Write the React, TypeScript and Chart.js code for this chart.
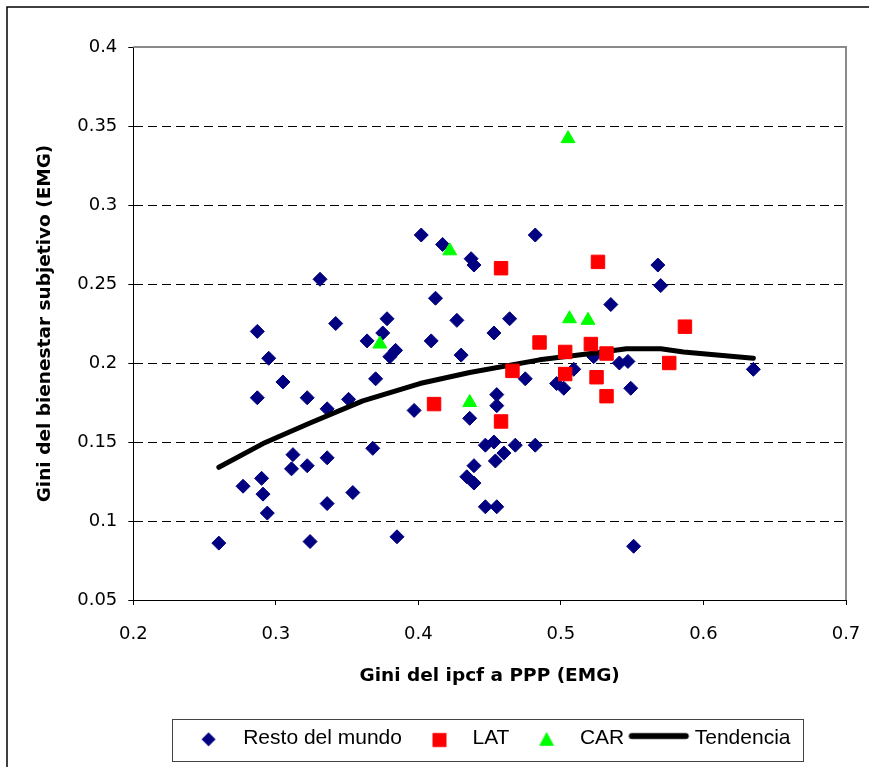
import React, { useEffect, useRef } from 'react';
import { Chart, registerables } from 'chart.js';

Chart.register(...registerables);

// ---- Data ----
const restoX = [0.260, 0.277, 0.287, 0.287, 0.290, 0.291, 0.294, 0.295, 0.305, 0.311, 0.312, 0.322, 0.322, 0.324, 0.331, 0.336, 0.336, 0.336, 0.342, 0.351, 0.354, 0.364, 0.368, 0.370, 0.375, 0.378, 0.380, 0.384, 0.385, 0.397, 0.402, 0.409, 0.412, 0.417, 0.427, 0.430, 0.434, 0.436, 0.437, 0.439, 0.439, 0.439, 0.447, 0.447, 0.453, 0.453, 0.454, 0.455, 0.455, 0.455, 0.460, 0.464, 0.468, 0.475, 0.482, 0.482, 0.497, 0.502, 0.509, 0.523, 0.535, 0.541, 0.547, 0.549, 0.551, 0.568, 0.570, 0.635];
const restoY = [0.086, 0.122, 0.220, 0.178, 0.127, 0.117, 0.105, 0.203, 0.188, 0.133, 0.142, 0.178, 0.135, 0.087, 0.253, 0.171, 0.140, 0.111, 0.225, 0.177, 0.118, 0.214, 0.146, 0.190, 0.219, 0.228, 0.204, 0.208, 0.090, 0.170, 0.281, 0.214, 0.241, 0.275, 0.227, 0.205, 0.128, 0.165, 0.266, 0.262, 0.135, 0.124, 0.148, 0.109, 0.150, 0.219, 0.138, 0.109, 0.180, 0.173, 0.143, 0.228, 0.148, 0.190, 0.281, 0.148, 0.187, 0.184, 0.196, 0.204, 0.237, 0.200, 0.201, 0.184, 0.084, 0.262, 0.249, 0.196];

const latX = [0.411, 0.458, 0.458, 0.466, 0.485, 0.503, 0.503, 0.521, 0.525, 0.526, 0.532, 0.532, 0.576, 0.587];
const latY = [0.174, 0.260, 0.163, 0.195, 0.213, 0.207, 0.193, 0.212, 0.191, 0.264, 0.206, 0.179, 0.200, 0.223];

const carX = [0.373, 0.422, 0.436, 0.505, 0.506, 0.519];
const carY = [0.212, 0.271, 0.175, 0.342, 0.228, 0.227];

const trendX = [0.260, 0.291, 0.324, 0.361, 0.401, 0.436, 0.485, 0.521, 0.546, 0.570, 0.586, 0.635];
const trendY = [0.134, 0.149, 0.162, 0.176, 0.187, 0.194, 0.202, 0.206, 0.209, 0.209, 0.207, 0.203];

const seriesNames = ['Resto del mundo', 'LAT', 'CAR', 'Tendencia'];
const xTickLabels = ['0.2', '0.3', '0.4', '0.5', '0.6', '0.7'];
const yTickLabels = ['0.05', '0.1', '0.15', '0.2', '0.25', '0.3', '0.35', '0.4'];
const xTitle = 'Gini del ipcf a PPP (EMG)';
const yTitle = 'Gini del bienestar subjetivo (EMG)';

const NAVY = '#000080';
const RED = '#FF0000';
const GREEN = '#00FF00';

function toPoints(xs: number[], ys: number[]) {
  return xs.map((x, i) => ({ x, y: ys[i] }));
}

function makeIcon(kind: string): HTMLCanvasElement {
  const c = document.createElement('canvas');
  c.width = 70;
  c.height = 20;
  const g = c.getContext('2d') as CanvasRenderingContext2D;
  if (kind === 'diamond') {
    const cx = 35.8, cy = 11.5, r = 7;
    g.fillStyle = NAVY;
    g.beginPath();
    g.moveTo(cx - r, cy);
    g.lineTo(cx, cy - r);
    g.lineTo(cx + r, cy);
    g.lineTo(cx, cy + r);
    g.closePath();
    g.fill();
  } else if (kind === 'square') {
    const cx = 37.5, cy = 12.2;
    g.fillStyle = RED;
    g.fillRect(cx - 7, cy - 7, 14, 14);
  } else if (kind === 'triangle') {
    const cx = 37.2, cy = 10.9;
    g.fillStyle = GREEN;
    g.beginPath();
    g.moveTo(cx, cy - 7);
    g.lineTo(cx + 7.5, cy + 7);
    g.lineTo(cx - 7.5, cy + 7);
    g.closePath();
    g.fill();
  } else {
    g.strokeStyle = '#000';
    g.lineWidth = 6;
    g.lineCap = 'round';
    g.beginPath();
    g.moveTo(7.5, 8.2);
    g.lineTo(61.5, 8.2);
    g.stroke();
  }
  return c;
}

const decorPlugin = {
  id: 'decor',
  afterLayout(chart: any) {
    const lg = chart.legend;
    if (!lg) return;
    const center = 486.6;
    const half = 330;
    const h = lg.height;
    lg.left = center - half;
    lg.right = center + half;
    lg.width = 2 * half;
    lg.top = 717.3;
    lg.bottom = 717.3 + h;
  },
  beforeDatasetsDraw(chart: any) {
    const { ctx, chartArea } = chart;
    ctx.save();
    ctx.strokeStyle = '#8a8a8a';
    ctx.lineWidth = 2;
    ctx.beginPath();
    ctx.moveTo(chartArea.left, chartArea.top);
    ctx.lineTo(chartArea.right, chartArea.top);
    ctx.lineTo(chartArea.right, chartArea.bottom);
    ctx.stroke();
    ctx.restore();
  },
  afterDraw(chart: any) {
    const { ctx } = chart;
    ctx.save();
    // legend frame
    ctx.strokeStyle = '#444';
    ctx.lineWidth = 1;
    ctx.strokeRect(172.5, 719.5, 631, 42);
    // outer chart frame (left and top edges visible)
    ctx.strokeStyle = '#000';
    ctx.lineWidth = 1.5;
    ctx.beginPath();
    ctx.moveTo(7, 900);
    ctx.lineTo(7, 7);
    ctx.lineTo(900, 7);
    ctx.stroke();
    ctx.restore();
  },
};

export default function App() {
  const canvasRef = useRef<HTMLCanvasElement | null>(null);

  useEffect(() => {
    if (!canvasRef.current) return;
    const icons = [makeIcon('diamond'), makeIcon('square'), makeIcon('triangle'), makeIcon('line')];
    const tickFont = { family: "'DejaVu Sans', sans-serif", size: 18 };
    const titleFont = { family: "'DejaVu Sans', sans-serif", size: 18.5, weight: 'bold' as const };

    const chart = new Chart(canvasRef.current, {
      type: 'scatter',
      data: {
        datasets: [
          {
            label: seriesNames[0],
            data: toPoints(restoX, restoY),
            pointStyle: 'rectRot',
            pointRadius: 7,
            pointBackgroundColor: NAVY,
            pointBorderColor: NAVY,
            pointBorderWidth: 1,
            backgroundColor: NAVY,
            borderColor: NAVY,
            order: 3,
          },
          {
            label: seriesNames[1],
            data: toPoints(latX, latY),
            pointStyle: 'rect',
            pointRadius: 9.5,
            pointBackgroundColor: RED,
            pointBorderColor: RED,
            pointBorderWidth: 1,
            backgroundColor: RED,
            borderColor: RED,
            order: 1,
          },
          {
            label: seriesNames[2],
            data: toPoints(carX, carY),
            pointStyle: 'triangle',
            pointRadius: 8,
            pointBackgroundColor: GREEN,
            pointBorderColor: GREEN,
            pointBorderWidth: 1,
            backgroundColor: GREEN,
            borderColor: GREEN,
            order: 0,
          },
          {
            label: seriesNames[3],
            data: toPoints(trendX, trendY),
            showLine: true,
            pointRadius: 0,
            borderColor: '#000',
            backgroundColor: '#000',
            borderWidth: 5,
            borderCapStyle: 'round',
            borderJoinStyle: 'round',
            tension: 0,
            order: 2,
          } as any,
        ],
      },
      options: {
        animation: false,
        responsive: false,
        devicePixelRatio: 1,
        events: [],
        layout: { padding: { left: 0, right: 23, top: 47, bottom: 7.75 } },
        scales: {
          x: {
            type: 'linear',
            min: 0.2,
            max: 0.7,
            afterFit: (scale: any) => {
              scale.height = 118.25;
              scale.paddingLeft = 0;
              scale.paddingRight = 0;
            },
            ticks: {
              stepSize: 0.1,
              color: '#000',
              font: tickFont,
              padding: 19,
              maxRotation: 0,
              callback: (value: any, index: number) => xTickLabels[index] ?? String(value),
            },
            grid: {
              display: true,
              drawOnChartArea: false,
              drawTicks: true,
              tickLength: 5,
              tickColor: '#000',
              tickWidth: 1,
            },
            border: { display: true, color: '#000', width: 1 },
            title: {
              display: true,
              text: xTitle,
              color: '#000',
              font: titleFont,
              padding: { top: 0, bottom: 31.15 },
            },
          },
          y: {
            type: 'linear',
            min: 0.05,
            max: 0.4,
            afterFit: (scale: any) => {
              scale.width = 133.3;
              scale.paddingTop = 0;
              scale.paddingBottom = 0;
            },
            ticks: {
              stepSize: 0.05,
              color: '#000',
              font: tickFont,
              padding: 11,
              callback: (value: any, index: number) => yTickLabels[index] ?? String(value),
            },
            grid: {
              display: true,
              drawOnChartArea: true,
              drawTicks: true,
              tickLength: 5,
              tickColor: '#000',
              tickWidth: 1,
              lineWidth: 1,
              color: (ctx: any) => {
                const v = ctx.tick ? ctx.tick.value : 0;
                if (Math.abs(v - 0.05) < 1e-6 || Math.abs(v - 0.4) < 1e-6) return 'rgba(0,0,0,0)';
                return '#000';
              },
            },
            border: { display: true, color: '#000', width: 1, dash: [9, 5] },
            title: {
              display: true,
              text: yTitle,
              color: '#000',
              font: titleFont,
              padding: { top: 34, bottom: 0 },
            },
          },
        },
        plugins: {
          tooltip: { enabled: false },
          title: { display: false },
          legend: {
            display: true,
            position: 'bottom',
            align: 'center',
            labels: {
              usePointStyle: true,
              pointStyleWidth: 50,
              padding: 10,
              color: '#000',
              font: { family: "'Liberation Sans', Arial, sans-serif", size: 21 },
              generateLabels: () =>
                seriesNames.map((name, i) => ({
                  text: name,
                  pointStyle: icons[i] as any,
                  fillStyle: 'rgba(0,0,0,0)',
                  strokeStyle: 'rgba(0,0,0,0)',
                  lineWidth: 0,
                  hidden: false,
                  datasetIndex: i,
                  fontColor: '#000',
                })),
            },
          },
        },
      },
      plugins: [decorPlugin],
    } as any);

    return () => {
      chart.destroy();
    };
  }, []);

  return (
    <div style={{ position: 'fixed', left: 0, top: 0, width: 869, height: 767, background: '#fff' }}>
      <canvas ref={canvasRef} width={869} height={767} style={{ display: 'block' }} />
    </div>
  );
}
